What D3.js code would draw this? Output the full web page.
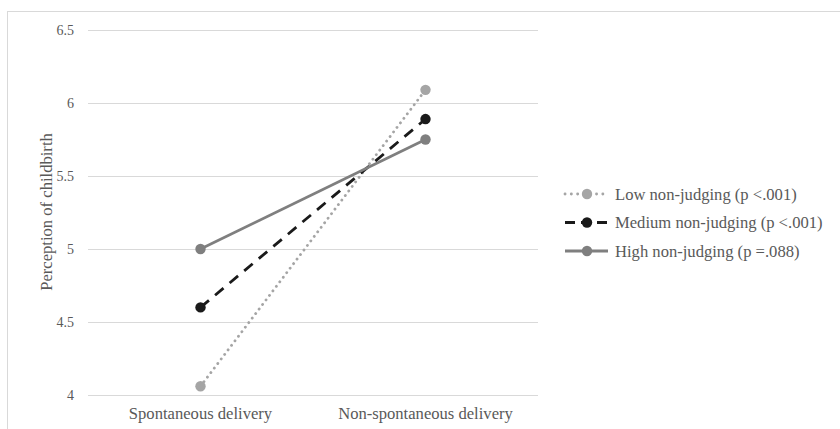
<!DOCTYPE html>
<html><head><meta charset="utf-8">
<script src="https://cdn.jsdelivr.net/npm/d3@7"></script>
<style>body{margin:0;background:#fff}svg{display:block}text{font-family:"Liberation Serif","Times New Roman",serif;fill:#595959}</style>
</head><body>
<svg id="c" width="840" height="429"></svg>
<script>
const categories = ["Spontaneous delivery", "Non-spontaneous delivery"];
const yTicks = [4, 4.5, 5, 5.5, 6, 6.5];
const lowValues = [4.06, 6.09];
const mediumValues = [4.6, 5.89];
const highValues = [5.0, 5.75];
const seriesNames = ["Low non-judging (p <.001)", "Medium non-judging (p <.001)", "High non-judging (p =.088)"];

const series = [
  {name: seriesNames[0], values: lowValues, color: "#a5a5a5", dash: "0.1,5.6", cap: "round", width: 2.8},
  {name: seriesNames[1], values: mediumValues, color: "#1a1a1a", dash: "11,8", cap: "butt", width: 2.8},
  {name: seriesNames[2], values: highValues, color: "#7f7f7f", dash: null, cap: "butt", width: 2.8}
];

const svg = d3.select("#c");
svg.append("rect").attr("x", 7.5).attr("y", 11.5).attr("width", 840).attr("height", 430)
  .attr("fill", "none").attr("stroke", "#d9d9d9");

const x = d3.scaleBand().domain(categories).range([88, 538]);
const y = d3.scaleLinear().domain([4, 6.5]).range([395, 30]);

// gridlines
svg.append("g").selectAll("line").data(yTicks).join("line")
  .attr("x1", 88).attr("x2", 538)
  .attr("y1", d => y(d) + 0.5).attr("y2", d => y(d) + 0.5)
  .attr("stroke", "#d9d9d9").attr("stroke-width", 1);

// y tick labels
svg.append("g").selectAll("text").data(yTicks).join("text")
  .attr("x", 74).attr("y", d => y(d)).attr("dy", "0.35em")
  .attr("text-anchor", "end").attr("font-size", 14)
  .text(d => d3.format("")(d));

// x labels
svg.append("g").selectAll("text").data(categories).join("text")
  .attr("x", d => x(d) + x.bandwidth() / 2).attr("y", 419)
  .attr("text-anchor", "middle").attr("font-size", 16.6)
  .text(d => d);

// y title
svg.append("text").attr("transform", "translate(52,212) rotate(-90)")
  .attr("text-anchor", "middle").attr("font-size", 16.6)
  .text("Perception of childbirth");

const line = d3.line().x((d, i) => x(categories[i]) + x.bandwidth() / 2).y(d => y(d));

series.forEach(s => {
  svg.append("path").attr("d", line(s.values)).attr("fill", "none")
    .attr("stroke", s.color).attr("stroke-width", s.width)
    .attr("stroke-dasharray", s.dash).attr("stroke-linecap", s.cap);
  svg.append("g").selectAll("circle").data(s.values).join("circle")
    .attr("cx", (d, i) => x(categories[i]) + x.bandwidth() / 2)
    .attr("cy", d => y(d)).attr("r", 5.2).attr("fill", s.color);
});

// legend
const lg = svg.append("g");
series.forEach((s, i) => {
  const ly = 194 + i * 28.5;
  lg.append("line").attr("x1", 565).attr("x2", 608).attr("y1", ly).attr("y2", ly)
    .attr("stroke", s.color).attr("stroke-width", s.width)
    .attr("stroke-dasharray", s.dash ? (i === 0 ? "0.1,6.2" : "10,6") : null)
    .attr("stroke-linecap", s.cap);
  lg.append("circle").attr("cx", 587).attr("cy", ly).attr("r", 5.2).attr("fill", s.color);
  lg.append("text").attr("x", 615).attr("y", ly).attr("dy", "0.35em")
    .attr("font-size", 16.6).text(s.name);
});
</script>
</body></html>
